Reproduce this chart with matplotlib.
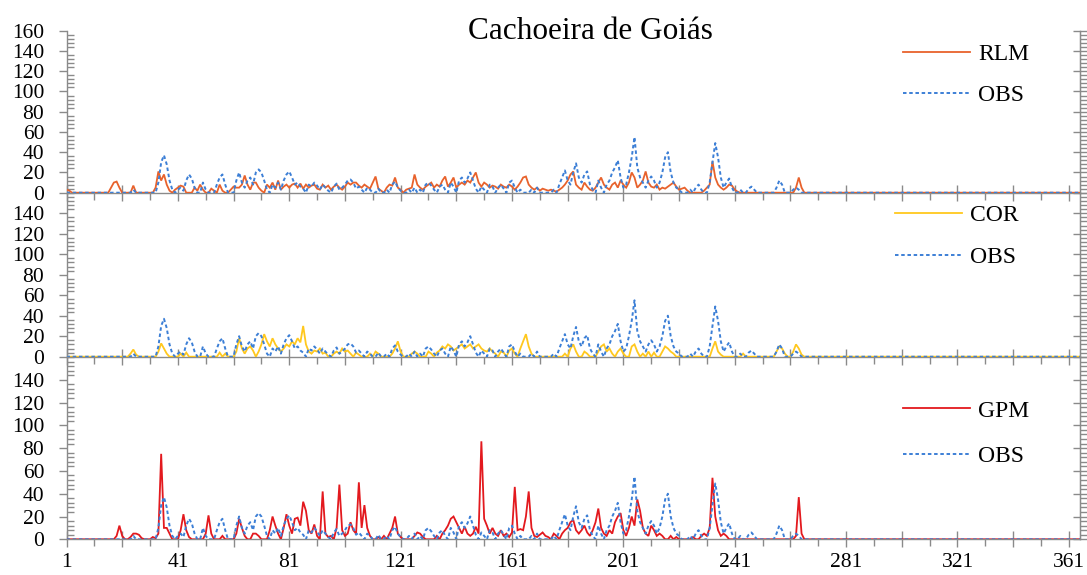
import numpy as np
import matplotlib
matplotlib.use("Agg")
import matplotlib.pyplot as plt
from matplotlib.ticker import MultipleLocator, FixedLocator, NullFormatter

plt.rcParams['font.family'] = ['Liberation Serif', 'DejaVu Serif']

title = "Cachoeira de Goiás"
n_days = 365
days = np.arange(1, n_days + 1)

# ---- observed rainfall (OBS), day -> mm ----
obs_days = [25, 34, 35, 36, 37, 38, 39, 41, 42, 43, 44, 45, 46, 47, 50, 51, 55, 56, 57, 58,
            62, 63, 64, 65, 66, 67, 68, 69, 70, 71, 72, 73, 75, 76, 77, 78, 79, 80, 81, 82,
            83, 84, 85, 86, 88, 89, 90, 91, 92, 93, 94, 95, 97, 98, 99, 100, 101, 102, 103, 104,
            105, 106, 107, 109, 110, 113, 116, 118, 119, 120, 121, 124, 126, 128, 130, 131, 132, 133, 135, 136,
            137, 139, 140, 142, 143, 144, 145, 146, 147, 148, 150, 151, 153, 154, 156, 157, 158, 160, 161, 162,
            164, 168, 170, 176, 178, 179, 180, 181, 182, 183, 184, 185, 186, 187, 188, 189, 190, 192, 193, 195,
            196, 197, 198, 199, 200, 201, 202, 203, 204, 205, 206, 207, 208, 209, 210, 211, 212, 213, 214, 215,
            216, 217, 218, 219, 220, 221, 225, 227, 228, 229, 232, 233, 234, 235, 236, 237, 238, 239, 240, 243,
            246, 247, 248, 256, 257, 258, 262, 263, 264]
obs_vals = [3, 10, 30, 37, 28, 12, 3, 3, 5, 2, 12, 18, 14, 5, 10, 3, 8, 15, 18, 8,
            12, 20, 10, 5, 12, 15, 8, 20, 23, 20, 12, 3, 8, 5, 10, 3, 12, 18, 21, 15,
            8, 10, 6, 4, 8, 6, 10, 7, 3, 8, 5, 2, 6, 9, 3, 5, 8, 12, 13, 10,
            4, 6, 3, 5, 3, 4, 3, 8, 11, 5, 2, 3, 5, 3, 8, 10, 7, 3, 6, 8,
            3, 10, 6, 12, 15, 10, 14, 20, 12, 4, 6, 3, 8, 6, 5, 8, 4, 10, 12, 5,
            3, 3, 5, 3, 8, 15, 22, 12, 8, 20, 29, 15, 10, 18, 21, 8, 3, 12, 5, 8,
            12, 20, 25, 32, 15, 5, 8, 20, 35, 55, 25, 15, 10, 5, 12, 16, 12, 5, 10, 20,
            35, 40, 20, 10, 5, 3, 3, 5, 8, 3, 10, 30, 49, 35, 15, 5, 10, 14, 5, 3,
            4, 6, 3, 5, 12, 8, 3, 5, 3]

# ---- RLM estimate ----
rlm_days = [1, 2, 17, 18, 19, 20, 25, 33, 34, 35, 36, 37, 38, 40, 41, 42, 43, 47, 48, 49,
            50, 53, 54, 56, 57, 60, 61, 62, 63, 64, 65, 66, 67, 68, 69, 70, 71, 73, 74, 75,
            76, 77, 78, 79, 80, 81, 82, 83, 84, 85, 86, 87, 88, 89, 90, 91, 92, 93, 94, 95,
            96, 97, 98, 99, 100, 101, 102, 103, 104, 105, 106, 107, 108, 109, 110, 111, 112, 113, 114, 116,
            117, 118, 119, 120, 121, 123, 124, 125, 126, 127, 128, 129, 130, 131, 132, 133, 134, 135, 136, 137,
            138, 139, 140, 141, 142, 143, 144, 145, 146, 147, 148, 149, 150, 151, 152, 153, 154, 155, 156, 157,
            158, 159, 160, 161, 162, 163, 164, 165, 166, 167, 168, 169, 170, 171, 172, 173, 174, 175, 176, 177,
            178, 179, 180, 181, 182, 183, 184, 185, 186, 187, 188, 189, 190, 191, 192, 193, 194, 195, 196, 197,
            198, 199, 200, 201, 202, 203, 204, 205, 206, 207, 208, 209, 210, 211, 212, 213, 214, 215, 216, 217,
            218, 219, 220, 221, 222, 223, 224, 230, 231, 232, 233, 234, 235, 236, 237, 238, 239, 240, 241, 242,
            263, 264, 265]
rlm_vals = [3, 2, 5, 10, 11, 5, 7, 5, 21, 12, 18, 8, 2, 3, 5, 7, 6, 5, 2, 8,
            3, 4, 2, 8, 2, 3, 6, 5, 5, 8, 17, 8, 3, 10, 10, 5, 2, 8, 5, 10,
            3, 12, 3, 6, 8, 5, 8, 9, 5, 9, 4, 8, 5, 7, 8, 4, 3, 8, 5, 7,
            3, 6, 8, 5, 3, 6, 10, 8, 10, 10, 7, 5, 8, 6, 4, 10, 16, 4, 2, 5,
            8, 7, 15, 5, 3, 3, 4, 5, 18, 8, 5, 3, 6, 8, 10, 5, 8, 6, 12, 16,
            6, 10, 15, 5, 8, 10, 8, 12, 10, 15, 20, 10, 6, 10, 8, 5, 7, 6, 4, 8,
            6, 5, 8, 6, 3, 6, 10, 15, 16, 8, 5, 3, 5, 2, 4, 3, 2, 3, 2, 1,
            3, 5, 8, 12, 18, 21, 8, 5, 3, 10, 6, 3, 2, 5, 10, 15, 8, 5, 3, 8,
            10, 5, 12, 8, 5, 10, 20, 15, 5, 8, 12, 21, 10, 6, 5, 8, 3, 5, 4, 6,
            8, 10, 6, 3, 4, 5, 2, 2, 5, 8, 31, 15, 8, 5, 3, 5, 8, 7, 3, 1,
            5, 15, 5]

# ---- COR estimate ----
cor_days = [24, 25, 26, 34, 35, 36, 37, 42, 44, 56, 58, 62, 63, 64, 65, 66, 67, 68, 70, 71,
            72, 73, 74, 75, 76, 77, 78, 79, 80, 81, 82, 83, 84, 85, 86, 87, 88, 89, 90, 91,
            92, 93, 94, 97, 98, 99, 100, 101, 102, 103, 105, 106, 110, 112, 113, 118, 119, 120, 121, 125,
            126, 127, 131, 132, 134, 135, 136, 137, 138, 139, 140, 141, 142, 143, 144, 145, 146, 147, 148, 149,
            150, 151, 152, 153, 154, 155, 157, 158, 160, 161, 162, 164, 165, 166, 167, 168, 180, 182, 183, 184,
            187, 188, 192, 193, 194, 195, 196, 197, 199, 200, 201, 204, 205, 206, 208, 210, 212, 215, 216, 217,
            218, 219, 233, 234, 235, 236, 244, 256, 257, 258, 259, 262, 263, 264, 265]
cor_vals = [3, 7, 2, 5, 13, 8, 3, 3, 4, 4, 3, 5, 18, 8, 3, 8, 10, 6, 5, 12,
            22, 15, 10, 18, 12, 8, 5, 8, 12, 10, 15, 12, 18, 14, 30, 12, 5, 3, 6, 5,
            8, 3, 4, 3, 5, 3, 8, 5, 6, 3, 4, 2, 3, 5, 3, 3, 8, 15, 5, 3,
            5, 3, 5, 3, 4, 6, 10, 8, 12, 10, 6, 8, 10, 12, 8, 10, 12, 8, 10, 12,
            8, 6, 5, 8, 5, 3, 5, 4, 6, 8, 3, 8, 15, 22, 10, 3, 3, 8, 12, 5,
            5, 3, 5, 10, 12, 5, 8, 3, 5, 8, 3, 10, 12, 5, 3, 5, 4, 5, 10, 8,
            5, 3, 8, 15, 5, 2, 3, 5, 10, 8, 3, 5, 12, 8, 2]

# ---- GPM estimate ----
gpm_days = [19, 20, 21, 24, 25, 26, 27, 28, 32, 33, 34, 35, 36, 37, 38, 42, 43, 44, 45, 51,
            52, 53, 57, 62, 63, 64, 65, 68, 69, 70, 74, 75, 76, 77, 79, 80, 81, 82, 83, 84,
            85, 86, 87, 88, 89, 90, 91, 93, 94, 95, 96, 98, 99, 100, 101, 102, 103, 104, 105, 106,
            107, 108, 109, 110, 113, 115, 117, 118, 119, 120, 121, 126, 127, 128, 129, 134, 136, 137, 138, 139,
            140, 141, 142, 143, 144, 145, 146, 147, 148, 149, 150, 151, 152, 153, 154, 155, 156, 157, 158, 159,
            160, 161, 162, 163, 164, 165, 166, 167, 168, 169, 170, 171, 172, 173, 174, 176, 177, 179, 180, 181,
            182, 183, 184, 185, 186, 187, 188, 189, 190, 191, 192, 193, 194, 195, 196, 197, 198, 199, 200, 201,
            202, 203, 204, 205, 206, 207, 208, 209, 210, 211, 212, 213, 214, 215, 218, 220, 226, 229, 230, 231,
            232, 233, 234, 235, 236, 237, 238, 263, 264, 265]
gpm_vals = [3, 12, 3, 2, 5, 5, 4, 1, 2, 1, 5, 75, 10, 10, 5, 8, 22, 8, 2, 5,
            21, 5, 3, 5, 18, 10, 3, 5, 5, 3, 8, 20, 12, 5, 10, 22, 12, 5, 18, 19,
            12, 33, 25, 8, 5, 13, 3, 42, 5, 2, 3, 10, 48, 8, 3, 5, 15, 8, 5, 50,
            10, 30, 10, 3, 2, 3, 5, 10, 20, 5, 2, 3, 6, 5, 2, 3, 5, 8, 12, 18,
            20, 15, 10, 5, 11, 5, 3, 5, 11, 5, 86, 18, 12, 5, 10, 5, 3, 8, 3, 5,
            2, 6, 46, 8, 9, 8, 20, 42, 10, 3, 2, 4, 6, 3, 2, 5, 3, 5, 8, 10,
            15, 17, 8, 5, 8, 12, 6, 3, 8, 15, 27, 10, 5, 3, 8, 5, 15, 20, 23, 8,
            3, 10, 20, 12, 35, 25, 10, 5, 3, 12, 8, 3, 5, 3, 3, 2, 2, 3, 5, 3,
            10, 54, 20, 8, 3, 5, 3, 3, 37, 5]


def to_series(d, v):
    s = np.zeros(n_days)
    s[np.array(d) - 1] = v
    return s


obs = to_series(obs_days, obs_vals)
panels = [
    ("RLM", to_series(rlm_days, rlm_vals), "#E8622C"),
    ("COR", to_series(cor_days, cor_vals), "#FFC81E"),
    ("GPM", to_series(gpm_days, gpm_vals), "#E3191E"),
]

W, H = 1087, 575
fig = plt.figure(figsize=(W / 100, H / 100), dpi=100)

left_px, right_px = 66.5, 1080
rects_px = [(30.7, 192.7), (192.7, 356.7), (357.0, 539.3)]
legend_anchor = [(0.825, 0.727), (0.817, 0.733), (0.825, 0.58)]
legend_spacing = [0.85, 0.85, 1.0]

gray = "#8a8a8a"
obs_color = "#3C7FD6"
tick_fs = 15.5
leg_fs = 17

for i, ((lab, ser, col), (t, b)) in enumerate(zip(panels, rects_px)):
    ax = fig.add_axes([left_px / W, 1 - b / H, (right_px - left_px) / W, (b - t) / H])
    ax.set_facecolor("none")
    ax.plot(days, ser, color=col, lw=1.3, label=lab, zorder=3, solid_joinstyle="miter")
    ax.plot(days, obs, color=obs_color, lw=1.4, ls=(0, (1.8, 1.4)), label="OBS", zorder=4)
    ax.set_xlim(1, n_days)
    ax.set_ylim(0, 160)

    ax.spines["top"].set_visible(False)
    for s in ["left", "right", "bottom"]:
        ax.spines[s].set_color(gray)
        ax.spines[s].set_linewidth(1.0)

    if i == 0:
        ax.yaxis.set_major_locator(MultipleLocator(20))
    else:
        ax.yaxis.set_major_locator(FixedLocator(np.arange(0, 141, 20)))
    ax.yaxis.set_minor_locator(MultipleLocator(4))
    ax.tick_params(axis="y", which="major", direction="out", length=6, width=1,
                   color=gray, labelsize=tick_fs, pad=10, right=False)
    ax.tick_params(axis="y", which="minor", direction="in", length=5, width=1,
                   color=gray, right=False)

    # right axis ticks
    sec = ax.secondary_yaxis("right")
    sec.set_yticks(np.arange(0, 161, 20) if i == 0 else np.arange(0, 141, 20))
    sec.yaxis.set_minor_locator(MultipleLocator(4))
    sec.yaxis.set_major_formatter(NullFormatter())
    sec.tick_params(axis="y", which="major", direction="inout", length=10, width=1, color=gray)
    sec.tick_params(axis="y", which="minor", direction="out", length=5, width=1, color=gray)
    sec.spines["right"].set_color(gray)

    xt = np.arange(1, n_days + 1, 20)
    ax.set_xticks(xt)
    ax.xaxis.set_minor_locator(FixedLocator(np.arange(11, n_days + 1, 20)))
    if i == 2:
        ax.set_xticklabels([str(d) if (d - 1) % 40 == 0 else "" for d in xt])
    else:
        ax.set_xticklabels([])
    ax.tick_params(axis="x", which="major", direction="inout", length=12, width=1,
                   color=gray, labelsize=tick_fs, pad=4)
    ax.tick_params(axis="x", which="minor", direction="out", length=5, width=1, color=gray)

    ax.legend(loc="center left", bbox_to_anchor=legend_anchor[i], frameon=False,
              fontsize=leg_fs, handlelength=2.85, handletextpad=0.35,
              labelspacing=legend_spacing[i], borderpad=0, borderaxespad=0)

fig.text(590 / W, 1 - 39.3 / H, title, ha="center", va="baseline", fontsize=22.5)

fig.savefig("out.png", dpi=100)
